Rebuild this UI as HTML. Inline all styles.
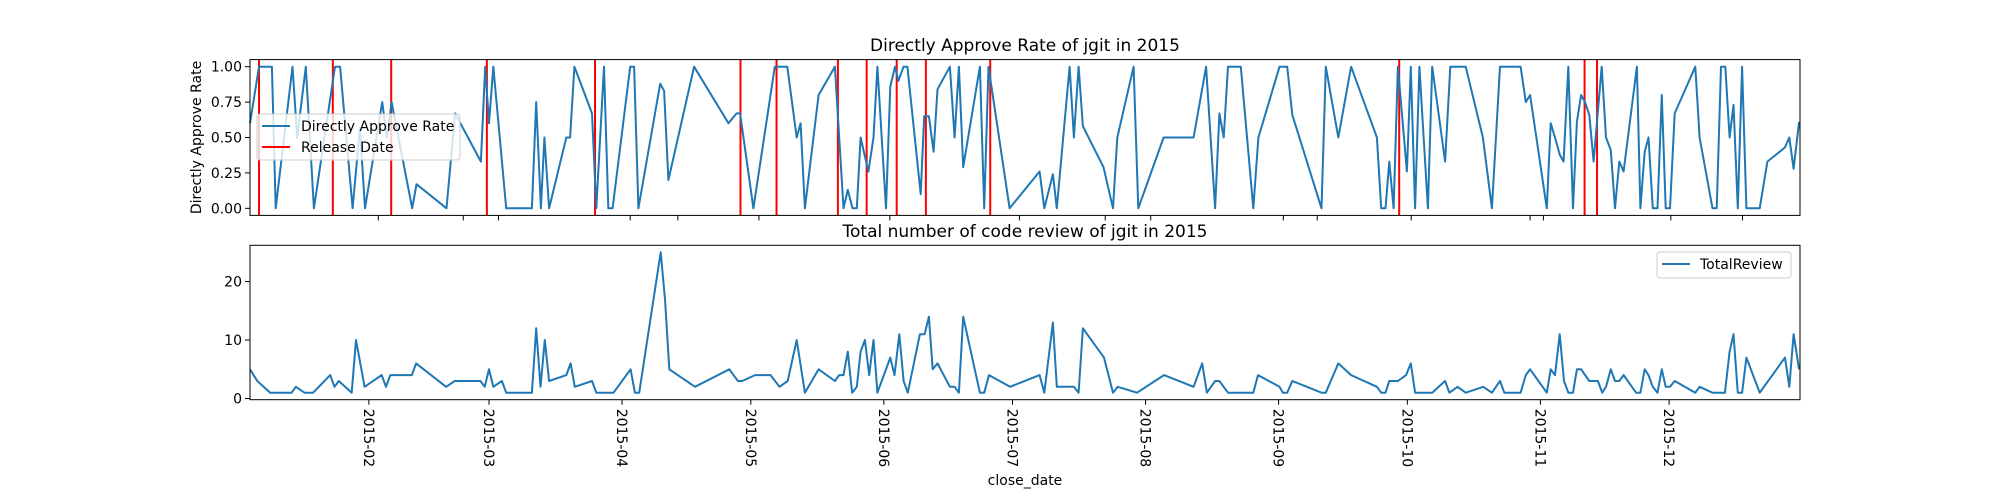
<!DOCTYPE html>
<html><head><meta charset="utf-8">
<style>
html,body{margin:0;padding:0;background:#fff;}
svg{display:block;font-family:"DejaVu Sans","Liberation Sans",sans-serif;}
</style></head>
<body>
<svg id="fig" width="2000" height="500" viewBox="0 0 2000 500"></svg>
<script>
// ---- data (day of year 2015, value) ----
const rateDays = [3.3,5.4,8.4,9.3,13.2,14.3,16.3,18.2,23.1,24.3,27.2,28.9,30.1,34.1,35.2,36.3,41.1,42.1,49.1,51.1,57.1,58.1,59.0,60.0,63.0,69.0,70.0,71.1,71.9,73.0,77.0,77.9,78.9,83.0,84.0,85.8,86.8,87.8,91.9,92.8,93.8,98.9,99.8,100.8,106.8,114.8,116.7,117.5,120.6,
125.6,128.5,130.7,131.6,132.6,135.8,139.6,141.6,142.6,143.7,144.7,145.6,147.4,148.6,149.5,151.5,152.5,153.6,154.4,155.6,156.5,159.6,160.4,161.5,162.6,163.5,166.4,167.5,168.5,169.5,173.4,174.4,175.4,180.3,187.3,188.4,190.4,191.3,194.3,195.3,196.4,197.4,202.2,204.4,205.4,209.2,210.3,216.2,223.2,226.1,228.2,229.2,230.2,231.2,234.2,237.1,238.3,243.2,
245,246.2,253,254,256.9,259.9,265.9,266.9,267.9,268.8,269.8,270.8,272.9,273.8,274.8,275.8,277.8,278.8,281.8,283,286.6,290.6,292.7,294.6,299.4,300.6,301.6,305.5,306.4,307.4,308.5,309.4,310.5,311.6,312.5,313.5,314.4,315.4,316.4,318.3,319.3,320.4,321.4,322.4,323.4,326.5,327.3,328.3,329.2,330.2,331.3,332.3,333.2,334.2,335.3,340.1,341.1,344.1,345.1,346.1,347.1,348.1,349,350,351,352,355.1,356.9,361,362,363,364.3];
const rateValues = [0.6,1,1,0,1,0.5,1,0,1,1,0,0.57,0,0.75,0.5,0.75,0,0.17,0,0.67,0.33,1,0.6,1,0,0,0.75,0,0.5,0,0.5,0.5,1,0.67,0,1,0,0,1,1,0,0.88,0.83,0.2,1,0.6,0.67,0.67,0,
1,1,0.5,0.6,0,0.8,1,0,0.13,0,0,0.5,0.26,0.5,1,0,0.86,1,0.9,1,1,0.1,0.65,0.65,0.4,0.84,1,0.5,1,0.29,1,0,1,0,0.26,0,0.24,0,1,0.5,1,0.58,0.29,0,0.5,1,0,0.5,0.5,1,0,0.67,0.5,1,1,0,0.5,1,
1,0.66,0,1,0.5,1,0.5,0,0,0.33,0,1,0.26,1,0,1,0,1,0.33,1,1,0.5,0,1,1,0.75,0.8,0,0.6,0.5,0.38,0.33,1,0,0.61,0.8,0.75,0.66,0.33,1,0.5,0.41,0,0.33,0.26,1,0,0.4,0.5,0,0,0.8,0,0,0.67,1,0.5,0,0,1,1,0.5,0.73,0,1,0,0,0.33,0.43,0.5,0.28,0.61];
const releaseDays = [5.4,22.6,36.2,58.5,83.7,117.6,126.0,140.3,147.0,154.0,160.8,175.8,271.1,314.3,317.2];
const reviewDays = [3.3,5,8,13,14,16,18,22,23,24,27,28,30,34,35,36,41,42,49,51,57,58,59,60,62,63,69,70,71,72,73,77,78,79,83,84,88,92,93,94,99,100,101,107,115,117,118,121,
124.6,126.7,128.6,130.7,132.6,135.8,139.6,140.6,141.6,142.6,143.6,144.7,145.6,146.6,147.6,148.6,149.5,152.5,153.5,154.6,155.6,156.6,159.4,160.5,161.5,162.4,163.5,166.4,167.5,168.5,169.5,173.4,174.4,175.5,180.4,187.3,188.4,190.4,191.3,195.3,196.4,197.4,202.3,204.4,205.5,210,216.3,223.2,225.2,226.3,228.2,229.2,231.2,237.1,238.2,243.2,
244,245,246.2,253,254,256.9,259.9,265.9,266.9,267.9,268.8,270.8,272.7,273.8,274.8,278.8,281.8,282.8,284.7,286.6,290.7,292.7,294.6,295.6,299.4,300.6,301.6,305.5,306.4,307.4,308.5,309.5,310.5,311.6,312.5,313.5,315.4,317.4,318.4,319.3,320.4,321.4,322.4,323.4,326.3,327.3,328.3,329.2,330.2,331.3,332.3,333.2,334.2,335.3,340.1,341.1,344.1,347,348.1,349,350,351,352,355.1,361,362,363,364.3];
const reviewValues = [5,3,1,1,2,1,1,4,2,3,1,10,2,4,2,4,4,6,2,3,3,2,5,2,3,1,1,12,2,10,3,4,6,2,3,1,1,5,1,1,25,17,5,2,5,3,3,4,
4,2,3,10,1,5,3,4,4,8,1,2,8,10,4,10,1,7,4,11,3,1,11,11,14,5,6,2,2,1,14,1,1,4,2,4,1,13,2,2,1,12,7,1,2,1,4,2,6,1,3,3,1,1,4,2,
1,1,3,1,1,6,4,2,1,1,3,3,4,6,1,1,3,1,2,1,2,1,3,1,1,4,5,1,5,4,11,3,1,1,5,5,3,3,1,2,5,3,3,4,1,1,5,4,2,1,5,2,2,3,1,2,1,1,8,11,1,1,7,1,7,2,11,5];
const monthDays = [31,59,90,120,151,181,212,243,273,304,334];
const monthLabels = ["2015-02","2015-03","2015-04","2015-05","2015-06","2015-07","2015-08","2015-09","2015-10","2015-11","2015-12"];
const topTickDays = [33.2,53,61.2,91.9,103,121.9,152.4,182.6,202.6,213.2,244.1,252,273.9,301.6,304.7,334.4,351.1];
const rateTicks = [0,0.25,0.5,0.75,1];
const rateTickLabels = ["0.00","0.25","0.50","0.75","1.00"];
const reviewTicks = [0,10,20];
const reviewTickLabels = ["0","10","20"];

// ---- layout ----
const L=250,R=1800;
const D0=3.3,D1=364.5;
const T1=59.6,B1=215.4, T2=245.3,B2=399.7;
const NS="http://www.w3.org/2000/svg";
const svg=document.getElementById('fig');
function x(d){return L+(d-D0)/(D1-D0)*(R-L);}
function y1(v){return B1-(v+0.05)/1.1*(B1-T1);}
function y2(v){return B2-(v+0.2)/26.4*(B2-T2);}
function mk(tag,attrs,parent){const e=document.createElementNS(NS,tag);for(const k in attrs)e.setAttribute(k,attrs[k]);(parent||svg).appendChild(e);return e;}
function txt(s,attrs,parent){const e=mk('text',attrs,parent);e.textContent=s;return e;}

// top panel
const g1=mk('g',{});


releaseDays.forEach(d=>{
  const l=mk('line',{x1:x(d),x2:x(d),y1:T1,y2:B1,stroke:'#ff0000','stroke-width':2},g1);
  
  
});
const p1=mk('polyline',{points:rateDays.map((d,i)=>x(d).toFixed(1)+','+y1(rateValues[i]).toFixed(1)).join(' '),fill:'none',stroke:'#1f77b4','stroke-width':2,'stroke-linejoin':'round'},g1);


const f1=mk('rect',{x:L,y:T1,width:R-L,height:B1-T1,fill:'none',stroke:'#000','stroke-width':1},g1);


rateTicks.forEach((v,i)=>{
  mk('line',{x1:L-5,x2:L,y1:y1(v),y2:y1(v),stroke:'#000'},g1);
  const t=txt(rateTickLabels[i],{x:L-8,y:y1(v)+5,'text-anchor':'end','font-size':14},g1);
  
  
});
topTickDays.forEach(d=>mk('line',{x1:x(d),x2:x(d),y1:B1,y2:B1+5,stroke:'#000'},g1));
const yl=txt('Directly Approve Rate',{x:0,y:0,'text-anchor':'middle','font-size':14,transform:'translate(201,'+((T1+B1)/2)+') rotate(-90)'},g1);


const t1=txt('Directly Approve Rate of jgit in 2015',{x:(L+R)/2,y:51,'text-anchor':'middle','font-size':17},g1);



// top legend
const lg1=mk('g',{},g1);


mk('rect',{x:257,y:114,width:203,height:46,rx:3,fill:'#fff','fill-opacity':0.8,stroke:'#ccc'},lg1);
mk('line',{x1:262,x2:290,y1:126,y2:126,stroke:'#1f77b4','stroke-width':2},lg1);
const le1=txt('Directly Approve Rate',{x:301,y:131,'font-size':14},lg1);


mk('line',{x1:262,x2:290,y1:147,y2:147,stroke:'#ff0000','stroke-width':2},lg1);
const le2=txt('Release Date',{x:301,y:152,'font-size':14},lg1);



// bottom panel
const g2=mk('g',{});


const p2=mk('polyline',{points:reviewDays.map((d,i)=>x(d).toFixed(1)+','+y2(reviewValues[i]).toFixed(1)).join(' '),fill:'none',stroke:'#1f77b4','stroke-width':2,'stroke-linejoin':'round'},g2);


const f2=mk('rect',{x:L,y:T2,width:R-L,height:B2-T2,fill:'none',stroke:'#000','stroke-width':1},g2);


reviewTicks.forEach((v,i)=>{
  mk('line',{x1:L-5,x2:L,y1:y2(v),y2:y2(v),stroke:'#000'},g2);
  const t=txt(reviewTickLabels[i],{x:L-8,y:y2(v)+5,'text-anchor':'end','font-size':14},g2);
  
  
});
monthDays.forEach((d,i)=>{
  mk('line',{x1:x(d),x2:x(d),y1:B2,y2:B2+5,stroke:'#000'},g2);
  const t=txt(monthLabels[i],{x:0,y:0,'font-size':14,transform:'translate('+(x(d)-5)+','+(B2+9)+') rotate(90)'},g2);
  
  
});
const xl=txt('close_date',{x:(L+R)/2,y:485,'text-anchor':'middle','font-size':14},g2);


const t2=txt('Total number of code review of jgit in 2015',{x:(L+R)/2,y:237,'text-anchor':'middle','font-size':17},g2);


const lg2=mk('g',{},g2);


mk('rect',{x:1657,y:252,width:134,height:26,rx:3,fill:'#fff','fill-opacity':0.8,stroke:'#ccc'},lg2);
mk('line',{x1:1662,x2:1690,y1:264,y2:264,stroke:'#1f77b4','stroke-width':2},lg2);
const le3=txt('TotalReview',{x:1700,y:269,'font-size':14},lg2);


</script>
</body></html>
